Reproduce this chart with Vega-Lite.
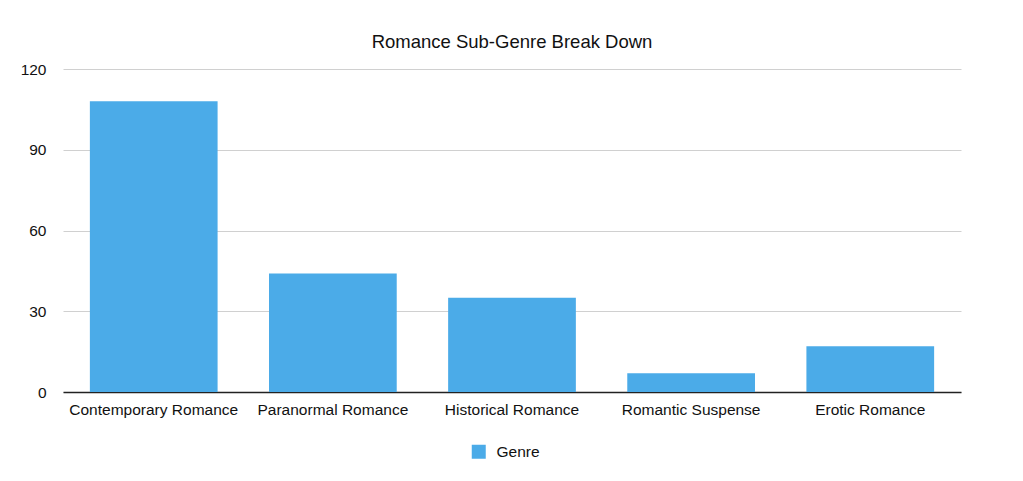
{
  "$schema": "https://vega.github.io/schema/vega-lite/v6.json",
  "width": 898,
  "height": 323,
  "autosize": "none",
  "padding": {"left": 63, "top": 69, "right": 62, "bottom": 89},
  "background": "white",
  "title": {
    "text": "Romance Sub-Genre Break Down",
    "anchor": "middle",
    "fontSize": 18.5,
    "fontWeight": "normal",
    "font": "Liberation Sans",
    "color": "#111111",
    "offset": 11
  },
  "data": {
    "values": [
      {"subgenre": "Contemporary Romance", "count": 108, "series": "Genre"},
      {"subgenre": "Paranormal Romance", "count": 44, "series": "Genre"},
      {"subgenre": "Historical Romance", "count": 35, "series": "Genre"},
      {"subgenre": "Romantic Suspense", "count": 7, "series": "Genre"},
      {"subgenre": "Erotic Romance", "count": 17, "series": "Genre"}
    ]
  },
  "mark": {"type": "bar", "color": "#4BABE8"},
  "encoding": {
    "x": {
      "field": "subgenre",
      "type": "nominal",
      "sort": null,
      "title": null,
      "scale": {"paddingInner": 0.287, "paddingOuter": 0.15},
      "axis": {
        "labelAngle": 0,
        "labelFont": "Liberation Sans",
        "labelFontSize": 15.5,
        "labelColor": "#111111",
        "labelPadding": 10,
        "ticks": false,
        "domainColor": "#222222",
        "domainWidth": 1.5,
        "grid": false
      }
    },
    "y": {
      "field": "count",
      "type": "quantitative",
      "title": null,
      "scale": {"domain": [0, 120]},
      "axis": {
        "values": [0, 30, 60, 90, 120],
        "labelFont": "Liberation Sans",
        "labelFontSize": 15.5,
        "labelColor": "#111111",
        "labelPadding": 17,
        "ticks": false,
        "domain": false,
        "grid": true,
        "gridColor": "#d0d0d0",
        "gridWidth": 1
      }
    },
    "fill": {
      "field": "series",
      "type": "nominal",
      "scale": {"range": ["#4BABE8"]},
      "legend": {
        "title": null,
        "orient": "none",
        "legendX": 408,
        "legendY": 375,
        "symbolType": "square",
        "symbolSize": 196,
        "symbolStrokeWidth": 0,
        "labelFont": "Liberation Sans",
        "labelFontSize": 15.5,
        "labelColor": "#111111",
        "labelOffset": 10
      }
    }
  },
  "config": {"view": {"stroke": null}}
}
